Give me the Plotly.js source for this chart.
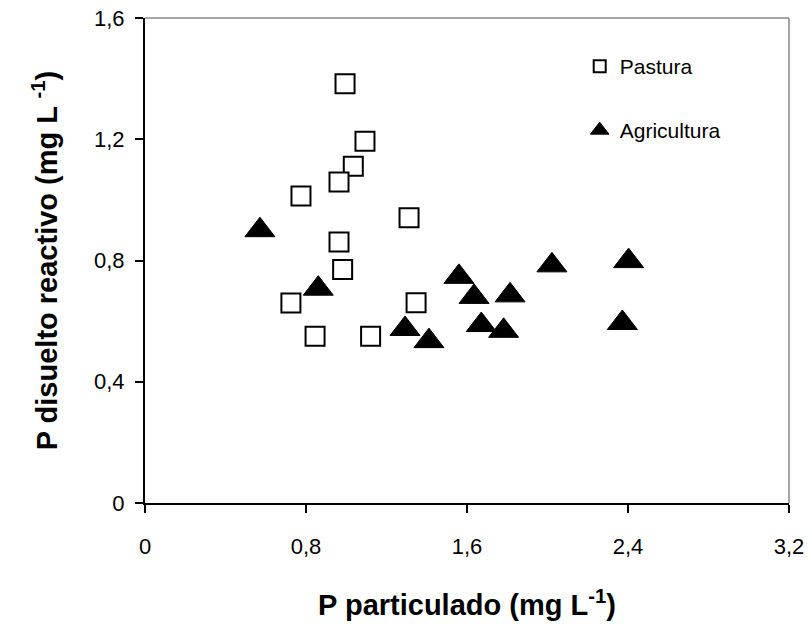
<!DOCTYPE html>
<html>
<head>
<meta charset="utf-8">
<script src="https://cdn.plot.ly/plotly-3.0.1.min.js"></script>
<style>html,body{margin:0;padding:0;background:#fff;}#chart{width:810px;height:624px;}</style>
</head>
<body>
<div id="chart"></div>
<script>
// Data
const pasturaX = [0.994, 1.093, 1.035, 0.964, 0.775, 1.312, 0.964, 0.982, 0.725, 1.347, 0.845, 1.121];
const pasturaY = [1.383, 1.193, 1.111, 1.059, 1.013, 0.941, 0.861, 0.770, 0.660, 0.661, 0.550, 0.550];
const agriX = [0.571, 0.861, 1.292, 1.411, 1.560, 1.635, 1.671, 1.782, 1.814, 2.022, 2.403, 2.372];
const agriY = [0.900, 0.707, 0.574, 0.534, 0.746, 0.680, 0.587, 0.568, 0.685, 0.784, 0.798, 0.594];
const xTickVals = [0, 0.8, 1.6, 2.4, 3.2];
const xTickText = ["0", "0,8", "1,6", "2,4", "3,2"];
const yTickVals = [0, 0.4, 0.8, 1.2, 1.6];
const yTickText = ["0", "0,4", "0,8", "1,2", "1,6"];

const FONT = "Liberation Sans, Arial, sans-serif";

const traces = [
  {
    x: pasturaX, y: pasturaY, type: "scatter", mode: "markers", name: "Pastura",
    legend: "legend",
    marker: {symbol: "square", size: 19, color: "#ffffff", line: {color: "#000000", width: 2}}
  },
  {
    x: agriX, y: agriY, type: "scatter", mode: "markers", name: "Agricultura",
    legend: "legend2",
    marker: {symbol: "triangle-up", size: 26, color: "#000000", line: {color: "#000000", width: 1}}
  }
];

const legendCommon = {
  x: 0.675, xanchor: "left", yanchor: "middle",
  bgcolor: "rgba(0,0,0,0)", borderwidth: 0,
  font: {family: FONT, size: 21, color: "#000"}
};

const layout = {
  width: 810, height: 624,
  margin: {l: 145, r: 21, t: 17.5, b: 121},
  paper_bgcolor: "#ffffff", plot_bgcolor: "#ffffff",
  font: {family: FONT, color: "#000"},
  showlegend: true,
  legend: Object.assign({}, legendCommon, {y: 0.9, itemsizing: "constant"}),
  legend2: Object.assign({}, legendCommon, {y: 0.768, itemsizing: "trace"}),
  xaxis: {
    range: [0, 3.2], tickvals: xTickVals, ticktext: xTickText,
    showgrid: false, zeroline: false, showline: true, linecolor: "#000", linewidth: 2,
    ticks: "outside", ticklen: 8, tickwidth: 2, tickcolor: "#000",
    ticklabelstandoff: 15,
    tickfont: {family: FONT, size: 22, color: "#000"},
    title: {text: "<b>P particulado (mg L<sup>-1</sup>)</b>", font: {family: FONT, size: 29, color: "#000"}, standoff: 36},
    automargin: false
  },
  yaxis: {
    range: [0, 1.6], tickvals: yTickVals, ticktext: yTickText,
    showgrid: false, zeroline: false, showline: true, linecolor: "#000", linewidth: 2,
    ticks: "outside", ticklen: 8, tickwidth: 2, tickcolor: "#000",
    ticklabelstandoff: 6,
    tickfont: {family: FONT, size: 22, color: "#000"},
    title: {text: "<b>P disuelto reactivo (mg L <sup>-1</sup>)</b>", font: {family: FONT, size: 29, color: "#000"}, standoff: 28},
    automargin: false
  },
  shapes: [
    {type: "line", xref: "paper", yref: "paper", x0: 0, x1: 1, y0: 1, y1: 1, line: {color: "#888888", width: 1.5}},
    {type: "line", xref: "paper", yref: "paper", x0: 1, x1: 1, y0: 0, y1: 1, line: {color: "#888888", width: 1.5}}
  ]
};

Plotly.newPlot("chart", traces, layout, {displayModeBar: false, staticPlot: true});
</script>
</body>
</html>
